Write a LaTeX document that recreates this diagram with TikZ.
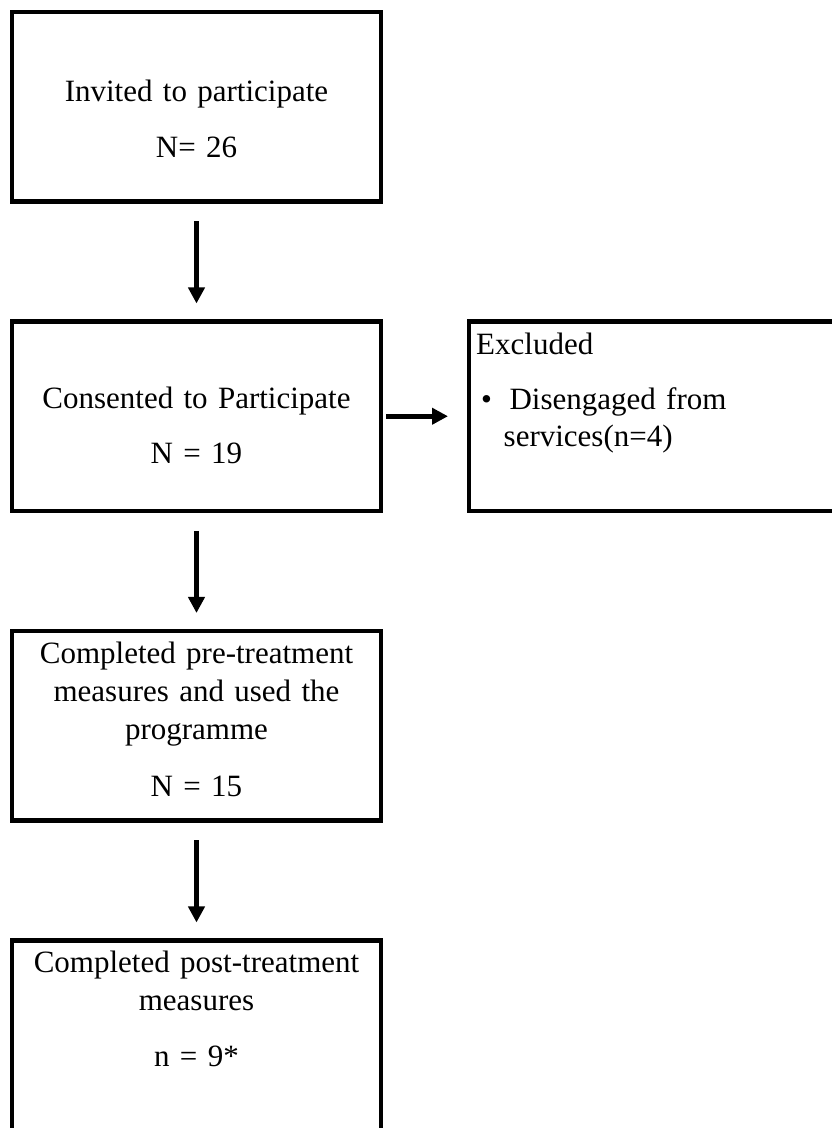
\documentclass[tikz,border=0pt]{standalone}
\usepackage{fontspec}
\setmainfont{Liberation Serif}
\usetikzlibrary{
  arrows.meta,
  chains,
  matrix,
  positioning,
  scopes
}

\begin{document}
\begin{tikzpicture}[
      stage/.style={
         rectangle,
         minimum width=369pt,
         minimum height=189.5pt,
         inner sep=0pt,
         outer sep=0pt,
         line width=4.5pt,
         draw=black
      },
      stage text/.style={
         anchor=base,
         inner sep=0pt,
         text width=365pt,
         align=center,
         font=\fontsize{31}{38}\selectfont
      },
      note text/.style={
         anchor=base west,
         inner sep=0pt,
         text width=350pt,
         align=left,
         font=\fontsize{31}{37}\selectfont
      },
      >={Triangle[length=16pt,width=16pt]},
      tip/.style={->,line width=5pt,shorten <=20pt,shorten >=18pt},
      side tip/.style={->,line width=5pt,shorten <=5pt,shorten >=21pt},
    ]
    \useasboundingbox (0,0) rectangle (831pt,1128pt);
    \matrix[anchor=north west, inner sep=0pt, outer sep=0pt, column sep=83.5pt, row sep=115.5pt] at (9.75pt,1118.25pt) {
\node (n11) [stage] {}; & \\
\node (n21) [stage] {}; & \node (n22) [stage] {}; \\
\node (n31) [stage] {}; & \\
\node (n41) [stage] {}; & \\
    };
    % texts in the boxes
    \node (t11) [stage text] at ([yshift=-90pt]n11.north) {Invited to participate\\[17.5pt]N= 26};
    \node (t21) [stage text] at ([yshift=-87pt]n21.north) {Consented to Participate\\[17.5pt]N = 19};
    \node (t22) [note text] at ([xshift=7pt,yshift=-33pt]n22.north west) {Excluded\\[18pt]\hspace*{5pt}\textbullet\hspace*{17.5pt}Disengaged from\\\hspace*{27.5pt}services(n=4)};
    \node (t31) [stage text] at ([yshift=-33pt]n31.north) {Completed pre-treatment\\measures and used the\\programme\\[18.5pt]N = 15};
    \node (t41) [stage text] at ([yshift=-32pt]n41.north) {Completed post-treatment\\measures\\[18pt]n = 9*};
  { [start chain]
       \chainin (n11);
       \chainin (n21)    [join=by tip];
       \chainin (n31)    [join=by tip];
       \chainin (n41)    [join=by tip];
  }
  { [start chain]
       \chainin (n21);
       \chainin (n22)    [join=by side tip];
  }
\end{tikzpicture}
\end{document}
